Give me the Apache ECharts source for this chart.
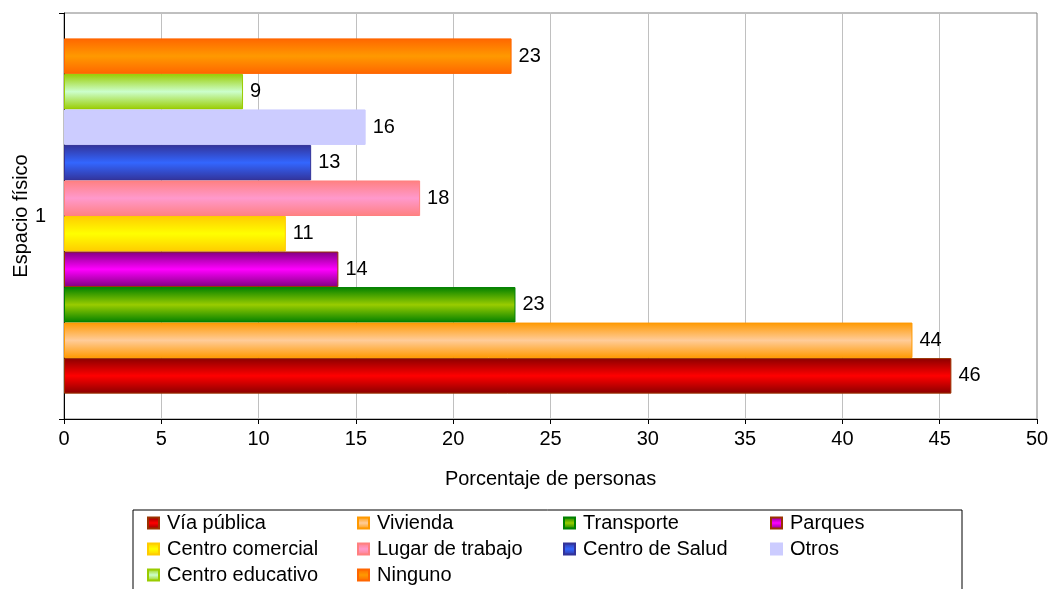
<!DOCTYPE html>
<html lang="es">
<head>
    <meta charset="UTF-8">
    <title>Espacio físico</title>
    <style>
        html, body { margin: 0; padding: 0; background: #fff; }
        #div_bar { width: 1050px; height: 589px; }
    </style>
</head>
<body>
    <div id="div_bar"></div>
</body>
<script src="https://cdn.jsdelivr.net/npm/echarts@6/dist/echarts.min.js"></script>
<script type="text/javascript">
    // datos
    var categories = ['1'];
    var seriesNames = ['Vía pública', 'Vivienda', 'Transporte', 'Parques', 'Centro comercial',
        'Lugar de trabajo', 'Centro de Salud', 'Otros', 'Centro educativo', 'Ninguno'];
    var seriesValues = [45.6, 43.6, 23.2, 14.1, 11.4, 18.3, 12.7, 15.5, 9.2, 23.0];
    var xTicks = [0, 5, 10, 15, 20, 25, 30, 35, 40, 45, 50];

    // colores: [borde, centro, contorno]
    var palette = [
        ['#8a0000', '#ff0000', '#993300'],
        ['#ff9900', '#ffcc99', '#ff9900'],
        ['#008000', '#99cc00', '#008000'],
        ['#800080', '#ff00ff', '#993300'],
        ['#ffcc00', '#ffff00', '#ffcc00'],
        ['#ff8080', '#ff99cc', '#ff8080'],
        ['#333399', '#3366ff', '#333399'],
        ['#ccccff', '#ccccff', '#ccccff'],
        ['#99cc00', '#ccffcc', '#99cc00'],
        ['#ff6600', '#ff9900', '#ff6600']
    ];

    // columnas de la leyenda
    var legendCols = [
        ['Vía pública', 'Centro comercial', 'Centro educativo'],
        ['Vivienda', 'Lugar de trabajo', 'Ninguno'],
        ['Transporte', 'Centro de Salud'],
        ['Parques', 'Otros']
    ];
    var legendX = [147, 357, 563, 770];

    function gradient(c) {
        return new echarts.graphic.LinearGradient(0, 0, 0, 1, [
            {offset: 0, color: c[0]},
            {offset: 0.5, color: c[1]},
            {offset: 1, color: c[0]}
        ]);
    }

    window.onload = function () {
        var series = [];
        // la primera serie va abajo: se añaden en orden inverso
        for (var i = seriesNames.length - 1; i >= 0; i--) {
            series.push({
                name: seriesNames[i],
                type: 'bar',
                data: [seriesValues[i]],
                barGap: '0%',
                barCategoryGap: '12.5%',
                itemStyle: {
                    color: gradient(palette[i]),
                    borderColor: palette[i][2],
                    borderWidth: 1
                },
                label: {
                    show: true,
                    position: 'right',
                    distance: 7,
                    color: '#000',
                    fontSize: 20,
                    formatter: function (p) { return Math.round(p.value); }
                }
            });
        }

        var legends = [];
        for (var j = 0; j < legendCols.length; j++) {
            legends.push({
                orient: 'vertical',
                left: legendX[j],
                top: 513,
                padding: 0,
                itemGap: 6,
                itemWidth: 11,
                itemHeight: 11,
                icon: 'rect',
                selectedMode: false,
                data: legendCols[j],
                textStyle: {color: '#000', fontSize: 20, padding: [0, 0, 0, 3]}
            });
        }

        var option = {
            animation: false,
            textStyle: {fontFamily: 'Liberation Sans'},
            grid: {
                left: 64, right: 13, top: 13, bottom: 170,
                outerBoundsMode: 'none',
                containLabel: false,
                show: true, borderColor: '#808080', borderWidth: 1
            },
            legend: legends,
            graphic: [{
                type: 'rect',
                shape: {x: 133, y: 510, width: 829, height: 82},
                style: {fill: 'none', stroke: '#000', lineWidth: 1}
            }],
            xAxis: {
                type: 'value',
                min: xTicks[0],
                max: xTicks[xTicks.length - 1],
                interval: xTicks[1] - xTicks[0],
                name: 'Porcentaje de personas',
                nameLocation: 'middle',
                nameGap: 50,
                nameMoveOverlap: false,
                nameTextStyle: {color: '#000', fontSize: 20},
                axisLine: {show: true, lineStyle: {color: '#000'}},
                axisTick: {show: true, length: 5, lineStyle: {color: '#000'}},
                axisLabel: {color: '#000', fontSize: 20, margin: 10},
                splitLine: {show: true, lineStyle: {color: '#c0c0c0'}}
            },
            yAxis: {
                type: 'category',
                data: categories,
                name: 'Espacio físico',
                nameLocation: 'middle',
                nameRotate: 90,
                nameGap: 33,
                nameMoveOverlap: false,
                nameTextStyle: {color: '#000', fontSize: 20},
                axisLine: {show: true, lineStyle: {color: '#000'}},
                axisTick: {show: true, length: 5, lineStyle: {color: '#000'}},
                axisLabel: {color: '#000', fontSize: 20, margin: 18}
            },
            series: series
        };

        var echart = echarts.init(document.getElementById('div_bar'));
        echart.setOption(option);
    };
</script>
</html>
